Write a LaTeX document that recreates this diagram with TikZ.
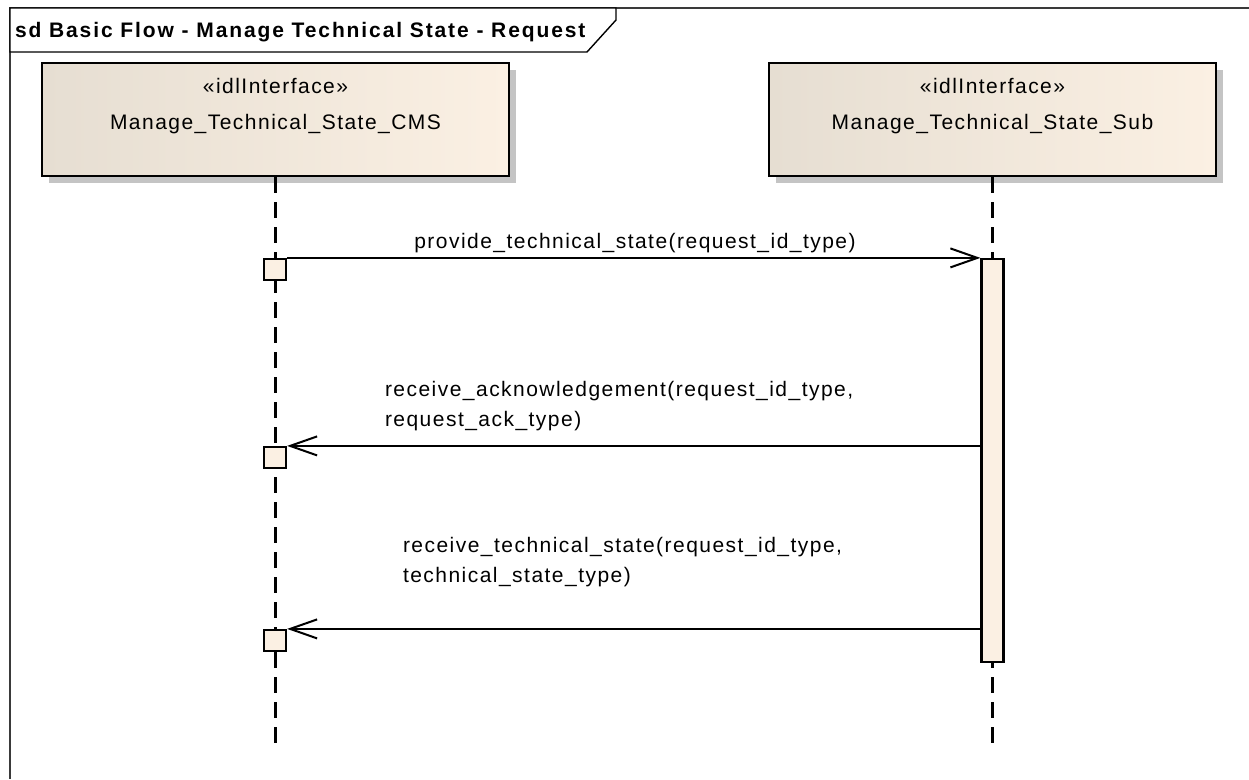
\documentclass[tikz,border=0pt]{standalone}
\usepackage{fontspec}
\setmainfont{Liberation Sans}[LetterSpace=7]
\usetikzlibrary{arrows.meta,shadows}
\definecolor{beige}{HTML}{FBF0E3}
\definecolor{beigedark}{HTML}{E6DED2}
\definecolor{shadowgray}{HTML}{C4C4C4}
\definecolor{framegray}{HTML}{3A3A3A}
\begin{document}
\begin{tikzpicture}[x=1pt,y=-1pt,
  lbl/.style={font=\fontsize{21}{29.5}\selectfont, inner sep=0pt, outer sep=0pt},
  lifebox/.style={draw=black, line width=2.2pt, left color=beigedark, right color=beige,
    minimum height=113pt, inner sep=0pt,
    drop shadow={shadow xshift=7pt, shadow yshift=-7pt, fill=shadowgray, opacity=1}},
  lifeline/.style={line width=2.2pt, dash pattern=on 16pt off 9pt},
  execbox/.style={draw=black, line width=2.2pt, fill=beige, minimum width=22pt, minimum height=21pt, inner sep=0pt},
  actbar/.style={draw=black, line width=2.2pt, fill=beige, minimum width=22pt, minimum height=403pt, inner sep=0pt},
  msg/.style={line width=2pt, -{Straight Barb[length=27pt,width=19pt,line width=2pt]}}]
\useasboundingbox (0,0) rectangle (1249,779);
% frame
\draw[framegray, line width=1.4pt] (1249,8) -- (10,8) -- (10,779);
\draw[black, line width=1.4pt, fill=white] (10,8) -- (616,8) -- (616,20) -- (587,52) -- (10,52) -- cycle;
\node[lbl, font=\bfseries\fontsize{21}{25}\selectfont\addfontfeatures{LetterSpace=9}, anchor=base west] (title) at (15,37) {sd Basic Flow - Manage Technical State - Request};
% lifeline heads
\node[lifebox, minimum width=467pt] (cms) at (275.5,119.5) {};
\node[lifebox, minimum width=447pt] (sub) at (992.5,119.5) {};
\node[lbl, anchor=base] (cmsst) at (275.5,93) {«idlInterface»};
\node[lbl, anchor=base] (cmsname) at (275.5,129) {Manage\_Technical\_State\_CMS};
\node[lbl, anchor=base] (subst) at (992.5,93) {«idlInterface»};
\node[lbl, anchor=base] (subname) at (992.5,129) {Manage\_Technical\_State\_Sub};
% lifelines
\coordinate (cmsend) at (275.5,750);
\coordinate (subend) at (992.5,750);
\draw[lifeline] (cms.south) -- (cmsend);
\draw[lifeline] (sub.south) -- (subend);
% activation and execution boxes
\node[actbar] (act) at (992.5,460.5) {};
\node[execbox] (e1) at (275,269.5) {};
\node[execbox] (e2) at (275,457.5) {};
\node[execbox] (e3) at (275,640.5) {};
% messages
\draw[msg] (e1.north east) -- (act.north west);
\draw[msg] (act.west |- e2.north) -- (e2.north east);
\draw[msg] (act.west |- e3.north) -- (e3.north east);
% labels
\node[lbl, anchor=base] (m1) at (635,248) {provide\_technical\_state(request\_id\_type)};
\node[lbl, anchor=north west, align=left] (m2) at (385,381.5) {receive\_acknowledgement(request\_id\_type,\\request\_ack\_type)};
\node[lbl, anchor=north west, align=left] (m3) at (403,537.5) {receive\_technical\_state(request\_id\_type,\\technical\_state\_type)};
\end{tikzpicture}
\end{document}
